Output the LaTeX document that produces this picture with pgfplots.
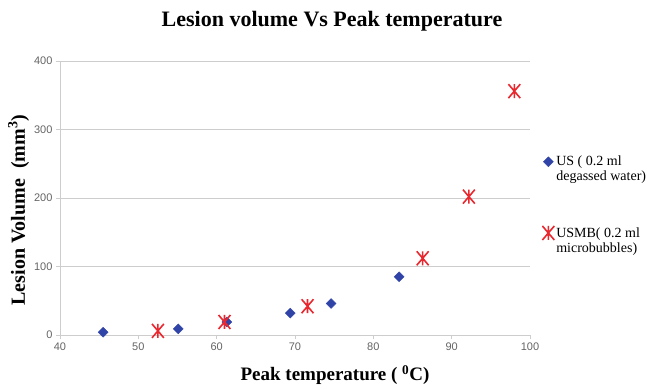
\documentclass[border=0pt]{standalone}
\usepackage{pgfplots}
\pgfplotsset{compat=1.18}
\usepackage{fontspec}
\setmainfont{Liberation Serif}
\newfontfamily\arialf{Liberation Sans}
\definecolor{usblue}{RGB}{48,68,168}
\definecolor{usred}{RGB}{232,40,46}
\definecolor{gridgray}{RGB}{205,205,205}
\definecolor{tickgray}{RGB}{100,100,100}
\pgfdeclareplotmark{xstar}{%
  \pgfpathmoveto{\pgfqpoint{-0.85\pgfplotmarksize}{-\pgfplotmarksize}}%
  \pgfpathlineto{\pgfqpoint{0.85\pgfplotmarksize}{\pgfplotmarksize}}%
  \pgfpathmoveto{\pgfqpoint{-0.85\pgfplotmarksize}{\pgfplotmarksize}}%
  \pgfpathlineto{\pgfqpoint{0.85\pgfplotmarksize}{-\pgfplotmarksize}}%
  \pgfpathmoveto{\pgfqpoint{0pt}{-\pgfplotmarksize}}%
  \pgfpathlineto{\pgfqpoint{0pt}{\pgfplotmarksize}}%
  \pgfusepathqstroke}
\begin{document}
\begin{tikzpicture}
\begin{axis}[
  name=main,
  scale only axis,
  width=470pt, height=274pt,
  xmin=40, xmax=100, ymin=0, ymax=400,
  xtick={40,50,...,100}, ytick={0,100,...,400},
  axis x line*=bottom, axis y line*=left,
  axis line style={gridgray, line width=0.8pt},
  tick style={gridgray, line width=0.8pt},
  tick align=outside, major tick length=4pt,
  ymajorgrids, grid style={gridgray, line width=0.8pt},
  ticklabel style={font=\arialf\fontsize{11}{12}\selectfont, text=tickgray},
  /pgf/number format/assume math mode=true,
  title={\fontsize{22}{24}\selectfont\bfseries Lesion volume Vs Peak temperature},
  title style={yshift=20pt, xshift=37pt},
  xlabel={\fontsize{19}{21}\selectfont\bfseries Peak temperature ( \textsuperscript{0}C)},
  ylabel={\fontsize{20}{22}\selectfont\bfseries Lesion Volume\ \ (mm\textsuperscript{3})},
  xlabel style={yshift=-8pt, xshift=40pt},
  ylabel style={at={(ticklabel cs:0.456)}, yshift=-2pt},
  legend style={at={(1.026,0.668)}, anchor=north west, draw=none, fill=none,
    font=\fontsize{14}{15}\selectfont, row sep=41pt, inner xsep=0pt,
    cells={align=left, anchor=west}},
  legend image post style={yshift=7.5pt},
  legend cell align=left,
  clip=false,
]
\addplot[only marks, mark=square*, mark size=3.5pt, color=usblue, mark options={fill=usblue, rotate=45}]
  coordinates {(45.5,4) (55.1,9) (61.3,19) (69.4,32) (74.6,46) (83.3,85)};
\addlegendentry{US ( 0.2 ml\\degassed water)}
\addplot[only marks, mark=xstar, mark size=7pt, color=usred, line width=1.6pt]
  coordinates {(52.5,6) (61.0,19) (71.6,42) (86.3,112) (92.2,202) (98.0,356)};
\addlegendentry{USMB( 0.2 ml\\microbubbles)}
\end{axis}
\pgfresetboundingbox
\path[use as bounding box] ([shift={(-60pt,-54pt)}]main.south west) rectangle ([shift={(588pt,335pt)}]main.south west);
\end{tikzpicture}
\end{document}
